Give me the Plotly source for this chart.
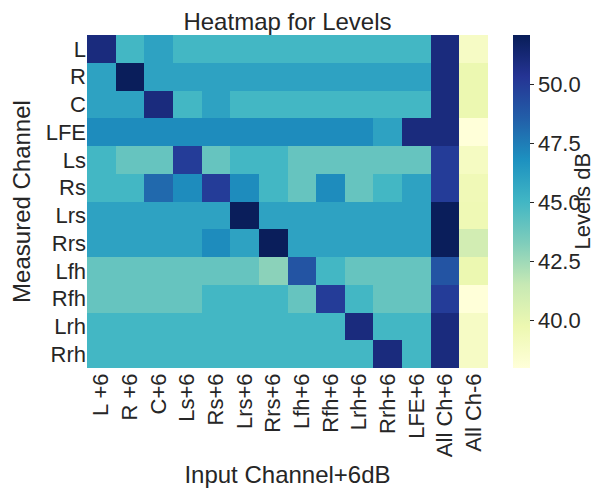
import plotly.graph_objects as go

x_labels = ["L +6", "R +6", "C+6", "Ls+6", "Rs+6", "Lrs+6", "Rrs+6", "Lfh+6",
            "Rfh+6", "Lrh+6", "Rrh+6", "LFE+6", "All Ch+6", "All Ch-6"]
y_labels = ["L", "R", "C", "LFE", "Ls", "Rs", "Lrs", "Rrs", "Lfh", "Rfh", "Lrh", "Rrh"]

row_L   = [51, 45, 46, 45, 45, 45, 45, 45, 45, 45, 45, 45, 51, 38.9]
row_R   = [46, 52, 46, 46, 46, 46, 46, 46, 46, 46, 46, 46, 51, 39.8]
row_C   = [46, 46, 51, 45, 46, 45, 45, 45, 45, 45, 45, 45, 51, 39.8]
row_LFE = [47, 47, 47, 47, 47, 47, 47, 47, 47, 47, 46, 51, 51, 38.0]
row_Ls  = [45, 44, 44, 50, 44, 45, 45, 44, 44, 44, 44, 44, 50, 39.0]
row_Rs  = [45, 45, 48.2, 47, 50, 47, 45, 44, 47, 44, 45, 46, 50, 39.5]
row_Lrs = [46, 46, 46, 46, 46, 52, 46, 46, 46, 46, 46, 46, 52, 39.6]
row_Rrs = [46, 46, 46, 46, 47, 46, 52, 46, 46, 46, 46, 46, 52, 41.0]
row_Lfh = [44, 44, 44, 44, 44, 44, 43, 49, 45, 44, 44, 44, 49, 39.8]
row_Rfh = [44, 44, 44, 44, 45, 45, 45, 44, 50, 45, 44, 44, 50, 38.0]
row_Lrh = [45, 45, 45, 45, 45, 45, 45, 45, 45, 51, 45, 45, 51, 38.9]
row_Rrh = [45, 45, 45, 45, 45, 45, 45, 45, 45, 45, 51, 45, 51, 38.9]

z = [row_L, row_R, row_C, row_LFE, row_Ls, row_Rs, row_Lrs, row_Rrs,
     row_Lfh, row_Rfh, row_Lrh, row_Rrh]

cbar_ticks = [40, 42.5, 45, 47.5, 50]
cbar_ticktext = ["40.0", "42.5", "45.0", "47.5", "50.0"]

ylgnbu = [[0.0, "#ffffd9"], [0.125, "#edf8b1"], [0.25, "#c7e9b4"], [0.375, "#7fcdbb"],
          [0.5, "#41b6c4"], [0.625, "#1d91c0"], [0.75, "#225ea8"], [0.875, "#253494"],
          [1.0, "#081d58"]]

FONT = "Liberation Sans, Arial, sans-serif"
TXT = "#262626"

fig = go.Figure(go.Heatmap(
    z=z, x=x_labels, y=y_labels, colorscale=ylgnbu, zmin=38.0, zmax=52.1,
    xgap=0, ygap=0,
    colorbar=dict(
        tickvals=cbar_ticks, ticktext=cbar_ticktext,
        tickfont=dict(size=22, color=TXT, family=FONT),
        ticks="outside", ticklen=4, tickcolor=TXT,
        thickness=17, thicknessmode="pixels", len=333, lenmode="pixels",
        x=1.062, xanchor="left", xpad=0, y=0.5, yanchor="middle", ypad=0,
        outlinewidth=0,
    ),
))

fig.add_annotation(
    text="Levels dB", textangle=-90, xref="paper", yref="paper",
    x=(582 - 87) / 401, y=0.5, xanchor="center", yanchor="middle", showarrow=False,
    font=dict(size=22, color=TXT, family=FONT),
)

fig.update_layout(
    width=599, height=490,
    margin=dict(l=87, r=111, t=35, b=122, autoexpand=False),
    paper_bgcolor="white", plot_bgcolor="white",
    font=dict(family=FONT, color=TXT),
    title=dict(text="Heatmap for Levels", x=287.5 / 599, xanchor="center",
               y=1 - 22 / 490, yanchor="middle", font=dict(size=24, color=TXT, family=FONT)),
)
fig.update_xaxes(
    title=dict(text="Input Channel+6dB", font=dict(size=24, color=TXT, family=FONT), standoff=10),
    tickangle=-90, tickfont=dict(size=22, color=TXT, family=FONT),
    tickmode="array", tickvals=x_labels, ticktext=x_labels,
    showgrid=False, zeroline=False, ticks="", ticklen=0, automargin=False,
)
fig.update_yaxes(
    title=dict(text="Measured Channel", font=dict(size=24, color=TXT, family=FONT), standoff=8),
    autorange="reversed", tickfont=dict(size=22, color=TXT, family=FONT),
    tickmode="array", tickvals=y_labels, ticktext=y_labels,
    showgrid=False, zeroline=False, ticks="", ticklen=0, automargin=False,
)

fig.write_html("out.html")
